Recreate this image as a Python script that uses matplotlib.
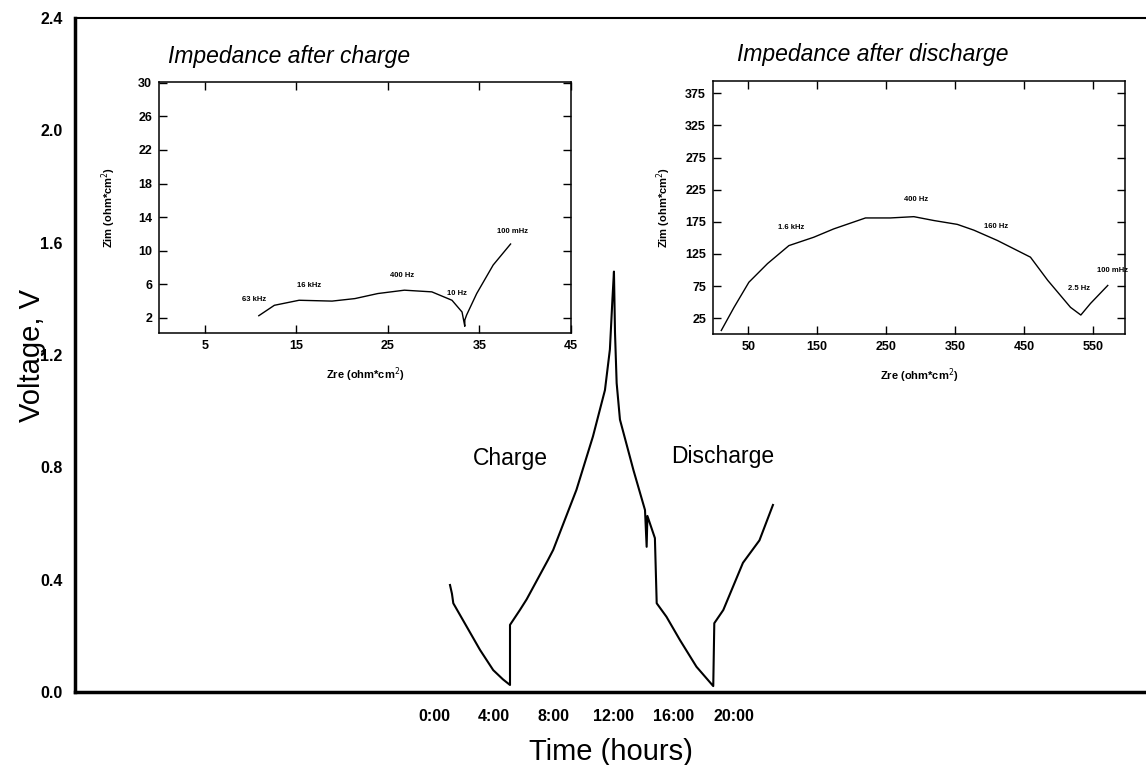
import matplotlib
matplotlib.use("Agg")
import matplotlib.pyplot as plt

plt.rcParams['font.family'] = ['Liberation Sans', 'DejaVu Sans']

# ---- Hauptkurve: Spannung über Zeit ----
zeit = [1.07, 1.2, 1.29, 2.18, 3.07, 3.95, 4.6, 5.07,
        5.07, 5.73, 6.18, 7.6, 7.95, 9.5, 10.6, 11.4, 11.73, 11.9, 12.0,
        12.07, 12.18, 12.4, 13.3, 14.07, 14.18, 14.23, 14.73,
        14.85, 15.5, 16.4, 17.5, 18.62,
        18.69, 19.29, 20.6, 21.7, 22.6]
spannung = [0.381, 0.35, 0.316, 0.233, 0.150, 0.078, 0.045, 0.025,
            0.239, 0.292, 0.33, 0.47, 0.506, 0.72, 0.91, 1.075, 1.22, 1.40, 1.497,
            1.28, 1.10, 0.97, 0.79, 0.648, 0.517, 0.627, 0.548,
            0.316, 0.268, 0.185, 0.09, 0.021,
            0.245, 0.292, 0.46, 0.54, 0.666]
zeit_ticks = [0, 4, 8, 12, 16, 20]
zeit_labels = ["0:00", "4:00", "8:00", "12:00", "16:00", "20:00"]
volt_ticks = [0.0, 0.4, 0.8, 1.2, 1.6, 2.0, 2.4]

# ---- Impedanz nach Ladung ----
zre_c = [10.9, 12.6, 15.3, 18.9, 21.4, 23.9, 26.8, 29.8, 32.0, 33.1, 33.4,
         33.4, 33.6, 34.7, 36.5, 38.4]
zim_c = [2.26, 3.5, 4.1, 4.0, 4.3, 4.9, 5.3, 5.1, 4.1, 2.7, 1.0,
         1.75, 2.35, 4.9, 8.3, 10.8]
freq_c = ["63 kHz", "16 kHz", "400 Hz", "10 Hz", "100 mHz"]
freq_c_x = [10.4, 16.4, 26.6, 32.5, 38.6]
freq_c_y = [4.25, 5.8, 7.0, 4.9, 12.3]

# ---- Impedanz nach Entladung ----
zre_d = [11, 29.5, 51, 78, 109, 145, 174, 220, 256, 290, 319, 353, 377,
         411, 435, 459, 484, 517, 532, 546, 571]
zim_d = [6, 42, 81, 110, 138, 151, 164, 181, 181, 183, 177, 171, 162,
         146, 133, 120, 84, 42, 30, 48, 76]
freq_d = ["1.6 kHz", "400 Hz", "160 Hz", "2.5 Hz", "100 mHz"]
freq_d_x = [112, 293, 409, 529, 578]
freq_d_y = [166, 209, 167, 71, 100]

W, H = 1146, 765
fig = plt.figure(figsize=(W / 100, H / 100), dpi=100)


def box(l, t, r, b):
    return [l / W, 1 - b / H, (r - l) / W, (b - t) / H]


ax = fig.add_axes(box(75, 18, 1146, 692))
ax.plot(zeit, spannung, color="black", lw=1.5)
ax.set_xlim(-23.93, 47.47)
ax.set_ylim(0, 2.4)
ax.set_xticks(zeit_ticks)
ax.set_xticklabels(zeit_labels)
ax.set_yticks(volt_ticks)
ax.set_yticklabels([f"{v:.1f}" for v in volt_ticks])
ax.tick_params(axis="both", length=0, labelsize=11.5)
ax.tick_params(axis="x", pad=12)
ax.tick_params(axis="y", pad=9)
for lab in ax.get_xticklabels() + ax.get_yticklabels():
    lab.set_fontweight("bold")
ax.spines["right"].set_visible(False)
ax.spines["left"].set_linewidth(2.5)
ax.spines["bottom"].set_linewidth(2.5)
ax.spines["top"].set_linewidth(1.5)
ax.text(5.1, 0.83, "Charge", fontsize=16.5, ha="center", va="center")
ax.text(19.27, 0.84, "Discharge", fontsize=16.5, ha="center", va="center")

fig.text(32 / W, 1 - 355 / H, "Voltage, V", rotation=90, fontsize=21,
         ha="center", va="center")
fig.text(611 / W, 1 - 752 / H, "Time (hours)", fontsize=21,
         ha="center", va="center")


def inset(pos, x, y, xlim, ylim, xt, yt, fx, fy, ft, ypad):
    a = fig.add_axes(pos)
    a.plot(x, y, color="black", lw=1.0)
    a.set_xlim(*xlim)
    a.set_ylim(*ylim)
    a.set_xticks(xt)
    a.set_yticks(yt)
    a.tick_params(direction="in", length=6, width=1, top=True, right=True,
                  labelsize=9, pad=5)
    for lab in a.get_xticklabels() + a.get_yticklabels():
        lab.set_fontweight("bold")
    for s in a.spines.values():
        s.set_linewidth(1.1)
    for t, tx, ty in zip(ft, fx, fy):
        a.text(tx, ty, t, fontsize=5.5, fontweight="bold", ha="center",
               va="center", clip_on=False)
    a.set_xlabel("Zre (ohm*cm$^2$)", fontsize=8, fontweight="bold", labelpad=10)
    a.set_ylabel("Zim (ohm*cm$^2$)", fontsize=8, fontweight="bold", labelpad=ypad)
    return a


a1 = inset(box(159, 82, 571, 333), zre_c, zim_c, (0, 45), (0.2, 30.1),
           [5, 15, 25, 35, 45], [2, 6, 10, 14, 18, 22, 26, 30],
           freq_c_x, freq_c_y, freq_c, 14)
a2 = inset(box(713, 81, 1125, 334), zre_d, zim_d, (-1, 596), (0.5, 394),
           [50, 150, 250, 350, 450, 550], [25, 75, 125, 175, 225, 275, 325, 375],
           freq_d_x, freq_d_y, freq_d, 9)

fig.text(168 / W, 1 - 57 / H, "Impedance after charge", fontsize=16.5,
         style="italic", ha="left", va="center")
fig.text(737 / W, 1 - 55 / H, "Impedance after discharge", fontsize=16.5,
         style="italic", ha="left", va="center")

fig.savefig("out.png", dpi=100)
